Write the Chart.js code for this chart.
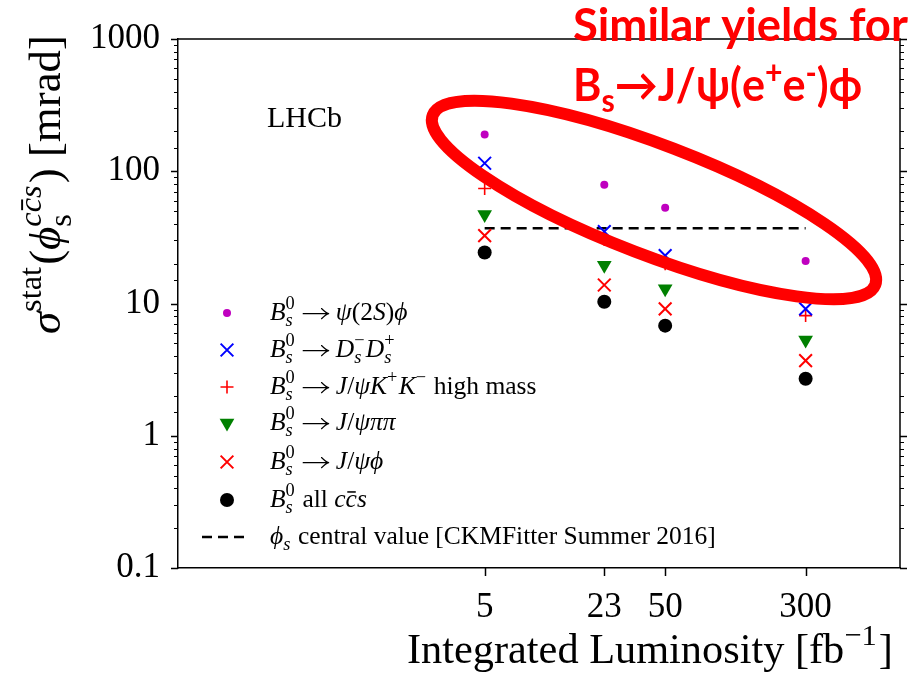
<!DOCTYPE html>
<html>
<head>
<meta charset="utf-8">
<script src="https://cdn.jsdelivr.net/npm/chart.js@4.4.1/dist/chart.umd.min.js"></script>
<style>
  html, body { margin: 0; padding: 0; background: #fff; }
  canvas { display: block; }
</style>
</head>
<body>
<canvas id="chart" width="913" height="678"></canvas>
<script>
// luminosity points [fb^-1] and sigma_stat values [mrad] per channel
const lumi = [5, 23, 50, 300];
const psi2SPhi = [190, 79, 53, 21];
const dsDs = [115, 35, 23, 9.1];
const kkHighMass = [74, 30.5, 20, 8.1];
const psiPiPi = [47, 19.5, 12.9, 5.3];
const psiPhi = [32.6, 13.8, 9.1, 3.7];
const allCcs = [24.3, 10.3, 6.8, 2.7];
const ckmLumi = [5, 300];
const ckmValue = [37, 37];
const xTickLabels = ['5', '23', '50', '300'];
const yTickLabels = ['0.1', '1', '10', '100', '1000'];

const SERIF = '"Liberation Serif", "DejaVu Serif", serif';
const PHI = '\u03D5';

function pts(xs, ys) {
  return xs.map((x, i) => ({ x: x, y: ys[i] }));
}

function isDecade(v) {
  const e = Math.log10(v);
  return Math.abs(e - Math.round(e)) < 1e-9;
}

// small "math" text renderer: segments are {t, i, bar}, {arrow} or {sup:[...], sub:[...]}
function rich(ctx, segs, x, y, size, draw) {
  let cx = x;
  for (const s of segs) {
    if (s.arrow) {
      // relation arrow with thick spaces, drawn like a TeX \rightarrow
      const sp = size * 0.28, len = size;
      if (draw) {
        const ay = y - size * 0.25, x0 = cx + sp, x1 = cx + sp + len;
        ctx.save();
        ctx.strokeStyle = ctx.fillStyle;
        ctx.lineWidth = Math.max(1, size * 0.045);
        ctx.lineCap = 'round';
        ctx.beginPath();
        ctx.moveTo(x0, ay); ctx.lineTo(x1, ay);
        ctx.moveTo(x1 - size * 0.28, ay - size * 0.2);
        ctx.quadraticCurveTo(x1 - size * 0.1, ay - size * 0.02, x1, ay);
        ctx.moveTo(x1 - size * 0.28, ay + size * 0.2);
        ctx.quadraticCurveTo(x1 - size * 0.1, ay + size * 0.02, x1, ay);
        ctx.stroke();
        ctx.restore();
      }
      cx += sp * 2 + len;
    } else if (s.t !== undefined) {
      ctx.font = (s.i ? 'italic ' : '') + size + 'px ' + SERIF;
      const w = ctx.measureText(s.t).width;
      if (draw) {
        ctx.fillText(s.t, cx, y);
        if (s.bar) ctx.fillRect(cx + w * 0.15, y - size * 0.62, w * 0.75, Math.max(1, size * 0.06));
      }
      cx += w;
    } else {
      const ss = size * 0.72;
      let w = 0;
      if (s.sup) w = Math.max(w, rich(ctx, s.sup, cx, y - size * 0.42, ss, draw));
      if (s.sub) w = Math.max(w, rich(ctx, s.sub, cx, y + size * 0.24, ss, draw));
      cx += w + size * 0.05;
    }
  }
  return cx - x;
}

const Bs0 = [{ t: 'B', i: 1 }, { sup: [{ t: '0' }], sub: [{ t: 's', i: 1 }] }];
const arrow = { arrow: true };
const legendItems = [
  { style: 'circle', r: 4, color: '#bf00bf', fill: true,
    text: Bs0.concat([arrow, { t: '\u03C8', i: 1 }, { t: '(2' }, { t: 'S', i: 1 }, { t: ')' }, { t: PHI, i: 1 }]) },
  { style: 'crossRot', r: 9, color: '#0000ff', lw: 2,
    text: Bs0.concat([arrow, { t: 'D', i: 1 }, { sup: [{ t: '\u2212' }], sub: [{ t: 's', i: 1 }] }, { t: 'D', i: 1 }, { sup: [{ t: '+' }], sub: [{ t: 's', i: 1 }] }]) },
  { style: 'cross', r: 6.5, color: '#ff0000', lw: 1.6,
    text: Bs0.concat([arrow, { t: 'J', i: 1 }, { t: '/' }, { t: '\u03C8', i: 1 }, { t: 'K', i: 1 }, { sup: [{ t: '+' }] }, { t: 'K', i: 1 }, { sup: [{ t: '\u2212' }] }, { t: ' high mass' }]) },
  { style: 'triangle', rot: 180, r: 8.5, color: '#008000', fill: true,
    text: Bs0.concat([arrow, { t: 'J', i: 1 }, { t: '/' }, { t: '\u03C8\u03C0\u03C0', i: 1 }]) },
  { style: 'crossRot', r: 9, color: '#ff0000', lw: 2,
    text: Bs0.concat([arrow, { t: 'J', i: 1 }, { t: '/' }, { t: '\u03C8' + PHI, i: 1 }]) },
  { style: 'circle', r: 7, color: '#000000', fill: true,
    text: Bs0.concat([{ t: ' all ' }, { t: 'c', i: 1 }, { t: 'c', i: 1, bar: 1 }, { t: 's', i: 1 }]) },
  { style: 'dash', color: '#000000',
    text: [{ t: PHI, i: 1 }, { sub: [{ t: 's', i: 1 }] }, { t: ' central value [CKMFitter Summer 2016]' }] }
];
const legendRows = [313, 350, 387, 423, 462, 500, 537];

const decorations = {
  id: 'decorations',
  afterDraw(chart) {
    const ctx = chart.ctx;
    const a = chart.chartArea;
    const xs = chart.scales.x, ys = chart.scales.y;
    ctx.save();
    ctx.strokeStyle = '#000';
    ctx.fillStyle = '#000';

    // frame top + right
    ctx.lineWidth = 1.5;
    ctx.beginPath();
    ctx.moveTo(a.left, a.top); ctx.lineTo(a.right, a.top); ctx.lineTo(a.right, a.bottom);
    ctx.stroke();

    // y ticks (outward on both sides)
    ys.ticks.forEach(t => {
      const py = Math.round(ys.getPixelForValue(t.value)) + 0.5;
      const major = isDecade(t.value);
      const len = major ? 7 : 4;
      ctx.lineWidth = major ? 1.5 : 1;
      ctx.beginPath();
      ctx.moveTo(a.left - len, py); ctx.lineTo(a.left, py);
      ctx.moveTo(a.right, py); ctx.lineTo(a.right + len, py);
      ctx.stroke();
    });
    // x ticks
    ctx.lineWidth = 1.5;
    xs.ticks.forEach(t => {
      const px = Math.round(xs.getPixelForValue(t.value)) + 0.5;
      ctx.beginPath();
      ctx.moveTo(px, a.bottom); ctx.lineTo(px, a.bottom + 8);
      ctx.stroke();
    });

    // LHCb label
    ctx.textBaseline = 'alphabetic';
    ctx.textAlign = 'left';
    ctx.font = '30px ' + SERIF;
    ctx.fillText('LHCb', 267, 127);

    // legend
    legendItems.forEach((it, k) => {
      const y = legendRows[k];
      if (it.style === 'dash') {
        ctx.save();
        ctx.setLineDash([10, 6]);
        ctx.lineWidth = 2.5;
        ctx.beginPath();
        ctx.moveTo(202, y); ctx.lineTo(246, y);
        ctx.stroke();
        ctx.restore();
      } else {
        ctx.save();
        ctx.fillStyle = it.color;
        ctx.strokeStyle = it.color;
        ctx.lineWidth = it.lw || 0;
        Chart.helpers.drawPoint(ctx, {
          pointStyle: it.style, radius: it.r, rotation: it.rot || 0, borderWidth: it.lw || 0
        }, 227, y);
        ctx.restore();
      }
      ctx.fillStyle = '#000';
      rich(ctx, it.text, 270, y + 7, 25.5, true);
    });

    // x title
    const xt = [{ t: 'Integrated Luminosity [fb' }, { sup: [{ t: '\u22121' }] }, { t: ']' }];
    let fs = 40 * 486 / rich(ctx, xt, 0, 0, 40, false);
    rich(ctx, xt, 407, 663, fs, true);

    // y title (rotated)
    const yt = [
      { t: '\u03C3', i: 1 }, { sup: [{ t: 'stat' }] }, { t: '(' }, { t: PHI, i: 1 },
      { sup: [{ t: 'c', i: 1 }, { t: 'c', i: 1, bar: 1 }, { t: 's', i: 1 }], sub: [{ t: 's' }] },
      { t: ')' }, { t: ' [mrad]' }
    ];
    fs = 40 * 299 / rich(ctx, yt, 0, 0, 40, false);
    ctx.save();
    ctx.translate(60, 334);
    ctx.rotate(-Math.PI / 2);
    rich(ctx, yt, 0, 0, fs, true);
    ctx.restore();

    // red annotation
    ctx.strokeStyle = '#ff0000';
    ctx.lineWidth = 12;
    ctx.beginPath();
    ctx.ellipse(654, 200, 237, 55, 21 * Math.PI / 180, 0, Math.PI * 2);
    ctx.stroke();

    ctx.fillStyle = '#ff0000';
    const RF = 'Lato, "Open Sans", sans-serif';
    ctx.font = 'bold 40px ' + RF;
    const rs = 40 * 335 / ctx.measureText('Similar yields for').width;
    ctx.font = 'bold ' + rs + 'px ' + RF;
    ctx.fillText('Similar yields for', 573, 41);
    const line2 = [
      ['B', 0, 1], ['s', 0.25, 0.7], ['\u2192', 0, 1], ['J/\u03C8(e', 0, 1], ['+', -0.38, 0.7],
      ['e', 0, 1], ['-', -0.38, 0.7], [')' + PHI, 0, 1]
    ];
    let tw = 0;
    line2.forEach(p => { ctx.font = 'bold ' + (rs * p[2]) + 'px ' + RF; tw += ctx.measureText(p[0]).width; });
    const sx = 289 / tw;
    ctx.save();
    ctx.translate(573, 101);
    ctx.scale(sx, 1);
    let cx = 0;
    line2.forEach(p => {
      ctx.font = 'bold ' + (rs * p[2]) + 'px ' + RF;
      ctx.fillText(p[0], cx, p[1] * rs);
      cx += ctx.measureText(p[0]).width;
    });
    ctx.restore();
    ctx.restore();
  }
};

const ptBase = { showLine: false, borderWidth: 0 };

new Chart(document.getElementById('chart'), {
  type: 'scatter',
  data: {
    datasets: [
      Object.assign({}, ptBase, { label: 'psi2S phi', data: pts(lumi, psi2SPhi), pointStyle: 'circle', pointRadius: 4,
        backgroundColor: '#bf00bf', borderColor: '#bf00bf' }),
      Object.assign({}, ptBase, { label: 'Ds Ds', data: pts(lumi, dsDs), pointStyle: 'crossRot', pointRadius: 9,
        borderColor: '#0000ff', borderWidth: 2 }),
      Object.assign({}, ptBase, { label: 'J/psi K K high mass', data: pts(lumi, kkHighMass), pointStyle: 'cross', pointRadius: 6.5,
        borderColor: '#ff0000', borderWidth: 1.6 }),
      Object.assign({}, ptBase, { label: 'J/psi pi pi', data: pts(lumi, psiPiPi), pointStyle: 'triangle', rotation: 180, pointRadius: 8.5,
        backgroundColor: '#008000', borderColor: '#008000' }),
      Object.assign({}, ptBase, { label: 'J/psi phi', data: pts(lumi, psiPhi), pointStyle: 'crossRot', pointRadius: 9,
        borderColor: '#ff0000', borderWidth: 2 }),
      Object.assign({}, ptBase, { label: 'all ccs', data: pts(lumi, allCcs), pointStyle: 'circle', pointRadius: 7,
        backgroundColor: '#000', borderColor: '#000' }),
      { label: 'CKMFitter', data: pts(ckmLumi, ckmValue), showLine: true, borderColor: '#000', borderWidth: 2.5,
        borderDash: [10, 6], pointRadius: 0, fill: false }
    ]
  },
  options: {
    responsive: false,
    animation: false,
    events: [],
    devicePixelRatio: 1,
    layout: { padding: { top: 35, right: 13, left: 0, bottom: 0 } },
    plugins: { legend: { display: false }, tooltip: { enabled: false } },
    scales: {
      x: {
        type: 'logarithmic', min: 0.1, max: 1000, position: 'bottom',
        afterBuildTicks: s => { s.ticks = lumi.map(v => ({ value: v })); },
        ticks: {
          autoSkip: false, maxRotation: 0, padding: 19, color: '#000',
          font: { family: SERIF, size: 35 },
          callback: (v, i) => xTickLabels[i]
        },
        grid: { display: false, drawTicks: false },
        border: { display: true, color: '#000', width: 1.5 },
        afterFit: s => { s.height = 110; }
      },
      y: {
        type: 'logarithmic', min: 0.1, max: 1000, position: 'left',
        ticks: {
          autoSkip: false, padding: 18, color: '#000',
          font: { family: SERIF, size: 35 },
          callback: v => isDecade(v) ? yTickLabels[Math.round(Math.log10(v)) + 1] : ''
        },
        grid: { display: false, drawTicks: false },
        border: { display: true, color: '#000', width: 1.5 },
        afterFit: s => { s.width = 178; }
      }
    }
  },
  plugins: [decorations]
});
</script>
</body>
</html>
